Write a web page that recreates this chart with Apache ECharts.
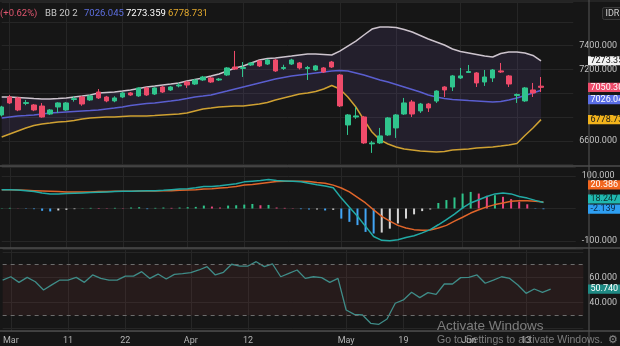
<!DOCTYPE html>
<html><head><meta charset="utf-8">
<script src="https://cdn.jsdelivr.net/npm/echarts@6.0.0/dist/echarts.min.js"></script>
<style>html,body{margin:0;padding:0;background:#161616;overflow:hidden}#c{width:620px;height:346px}</style>
</head><body><div id="c"></div>
<script>
// ---- data ----
const tickLabels = ['Mar','11','22','Apr','12','May','19','Jun','13'];
const tickIndex  = [1, 8, 15, 23, 30, 42, 49, 57, 64];
const slotCount = 72;
const categories = Array.from({length: slotCount}, (_, i) => String(i));

const opens = [6818,6969,6961,6915,6902,6893,6826,6885,6860,6948,
 6969,6944,7011,6969,6936,6969,7003,6978,7045,6994,
 7053,7028,7062,7095,7078,7112,7129,7112,7154,7221,
 7209,7238,7272,7246,7280,7209,7246,7255,7209,7196,
 7213,7263,7154,6734,6801,6801,6575,6583,6650,6709,
 6826,6927,6852,6910,6935,7053,7053,7129,7175,7171,
 7095,7129,7188,7146,6982,6936,7028,7060];
const closes = [6885,6919,6860,6922,6860,6801,6860,6919,6919,6955,
 6910,6978,6961,6936,6961,7003,6986,7045,6986,7045,
 7011,7053,7070,7070,7112,7137,7095,7120,7213,7204,
 7217,7255,7230,7280,7188,7217,7280,7213,7217,7230,
 7179,7221,6894,6818,6810,6583,6583,6642,6793,6818,
 6919,6826,6910,6877,7019,7028,7146,7146,7183,7087,
 7137,7196,7179,7078,6990,7045,7003,7050.3];
const lows = [6805,6910,6850,6900,6850,6795,6818,6835,6852,6930,
 6895,6936,6952,6925,6925,6960,6978,6970,6978,6986,
 7003,7020,7050,7045,7070,7104,7087,7104,7146,7196,
 7137,7230,7221,7238,7180,7196,7238,7200,7112,7188,
 7171,7213,6885,6650,6785,6575,6499,6575,6642,6625,
 6818,6801,6835,6843,6919,6969,7019,7120,7171,7053,
 7062,7095,7171,7053,6919,6928,6969,7011];
const highs = [6895,6986,6970,6944,6910,6918,6868,6925,6927,6975,
 6978,6986,7036,6978,6975,7011,7011,7050,7053,7050,
 7060,7060,7087,7104,7120,7146,7137,7129,7220,7356,
 7263,7263,7280,7288,7288,7240,7290,7263,7230,7238,
 7221,7272,7162,6826,6885,6810,6600,6709,6801,6826,
 6961,6944,6919,6919,7025,7060,7154,7213,7238,7179,
 7196,7204,7255,7154,6998,7053,7087,7137];

const bbUpper = [6969,6969,6965,6961,6956,6952,6952,6956,6961,6969,
 6977,6986,7003,7007,7011,7019,7028,7040,7053,7061,
 7070,7078,7087,7103,7116,7129,7145,7162,7187,7213,
 7229,7255,7280,7292,7297,7305,7313,7322,7330,7330,
 7326,7322,7355,7397,7439,7490,7540,7557,7557,7553,
 7536,7515,7486,7456,7431,7406,7372,7351,7339,7326,
 7313,7305,7334,7347,7347,7339,7318,7273.359];
const bbMid = [6792,6801,6809,6813,6818,6826,6834,6839,6843,6847,
 6851,6855,6860,6868,6876,6885,6897,6906,6914,6918,
 6927,6935,6944,6956,6969,6977,6986,7003,7019,7036,
 7053,7070,7087,7103,7120,7133,7145,7154,7162,7171,
 7179,7187,7192,7187,7171,7154,7133,7112,7095,7074,
 7053,7032,7011,6986,6969,6956,6948,6944,6939,6935,
 6931,6927,6931,6944,6961,6982,7003,7026.045];
const bbLower = [6633,6658,6683,6708,6729,6742,6750,6759,6763,6771,
 6784,6792,6797,6801,6801,6805,6809,6809,6809,6813,
 6818,6822,6826,6834,6851,6868,6876,6885,6889,6893,
 6893,6902,6910,6923,6944,6961,6977,6994,7003,7015,
 7036,7066,7036,6969,6885,6776,6675,6608,6574,6549,
 6532,6524,6515,6511,6507,6511,6524,6528,6532,6540,
 6545,6549,6557,6566,6578,6645,6708,6778.731];

const macdLine = [58,58,57,55,52,48,45,45,46,47,
 48,49,50,51,52,53,53,54,55,55,
 56,58,60,61,64,68,68,70,73,76,
 82,84,86,89,86,85,84,82,78,73,
 69,64,32,4,-24,-55,-86,-98,-99,-96,
 -89,-84,-75,-65,-50,-34,-17,2,17,27,
 37,45,48,45,37,32,25,18.247];
const signalLine = [58,58,57,56,55,54,53,52,51,51,
 51,51,52,52,53,53,53,54,54,54,
 55,55,56,57,58,60,61,63,65,68,
 72,74,77,80,83,84,84,84,83,80,
 78,72,63,51,34,17,-4,-24,-39,-52,
 -60,-65,-67,-66,-60,-52,-39,-27,-14,-4,
 5,12,17,22,24,24,22,20.386];
const macdHist = [1,2,0.5,-1,-2,-7,-9,-6,-4,-2,
 1,2,1.5,1,2,1,3,4,-2,2,
 3,2,3,4,5,9,6,3,9,10,
 12,14,10,11,3,2,1,-2,-3,-3,
 -6,-4,-31,-41,-51,-72,-77,-74,-62,-46,
 -31,-18,-8,-3,17,26,34,46,51,46,
 39,41,36,29,21,13,-1,-2.139];
const rsiValues = [57.8,60.4,56,59.9,56.5,50,54,57.8,57.8,59.9,
 56,61.8,59.1,57.8,57.8,60.9,60.9,64.4,59.1,62.5,
 58.6,62.3,62.8,63.6,65.7,68.3,61.8,63.9,70.2,68.8,
 68.8,72.2,68.3,70.4,60.4,63.1,65.7,59.1,60.4,59.7,
 56,59.1,34.3,30.9,30.4,23.9,23.1,27.3,39.6,42.2,
 48.2,44,47.9,46.6,54.7,54.7,59.7,59.9,61.8,55.3,
 57.8,60.4,59.1,53.9,47.4,50.8,48.2,50.74];

// visible tick labels (6800 / 7000 are hidden behind value tags in the reference)
const priceTicks = [6600, 7200, 7400];
const macdTicks = [-100, 100];
const rsiTicks = [40, 60];
const rsiBand = [30, 70];
const headerChange = '(+0.62%)';
const headerName = 'BB 20 2';

// ---- styling ----
const FONT = 'Roboto, "Noto Sans", sans-serif';
const BG = '#161616', GRID = '#262626', SEP = '#4d4d4d', AXTXT = '#c4c4c4';
const UP = '#30c48d', DOWN = '#ee4b6a';
const GL = 1.7, GR = 31.1;

const chart = echarts.init(document.getElementById('c'), null, {renderer: 'canvas', width: 620, height: 346});

function xAxis(gi, showLabel) {
  return {
    type: 'category', gridIndex: gi, data: categories, boundaryGap: false,
    axisLine: {show: false}, axisTick: {show: false},
    axisLabel: showLabel ? {
      show: true, color: '#b4b4b4', fontSize: 9, fontFamily: FONT, margin: 5,
      interval: (i) => tickIndex.includes(i),
      formatter: (v) => { const k = tickIndex.indexOf(Number(v)); return k >= 0 ? tickLabels[k] : ''; }
    } : {show: false},
    splitLine: {show: true, interval: (i) => tickIndex.includes(i), lineStyle: {color: GRID, width: 1}}
  };
}
function yAxis(gi, min, max, step, shown) {
  return {
    type: 'value', gridIndex: gi, position: 'right', min: min, max: max,
    minInterval: step, maxInterval: step, splitNumber: 3,
    axisLine: {show: false}, axisTick: {show: false},
    splitLine: {show: true, lineStyle: {color: GRID, width: 1}},
    axisLabel: {
      color: AXTXT, fontSize: 9, fontFamily: FONT, margin: 6,
      formatter: (v) => shown.some(t => Math.abs(t - v) < 1e-6) ? v.toFixed(3) : ''
    }
  };
}

const last = closes.length - 1;

const option = {
  backgroundColor: BG,
  animation: false,
  grid: [
    {left: GL, right: GR, top: 2, height: 164},
    {left: GL, right: GR, top: 167, height: 81},
    {left: GL, right: GR, top: 249, height: 82}
  ],
  xAxis: [xAxis(0, false), xAxis(1, false), xAxis(2, true)],
  yAxis: [
    yAxis(0, 6389.1, 7767.2, 200, priceTicks),
    yAxis(1, -121.5, 127.7, 100, macdTicks),
    yAxis(2, 17.84, 82.16, 20, rsiTicks)
  ],
  series: [
    {
      type: 'custom', xAxisIndex: 0, yAxisIndex: 0, data: [0], silent: true, z: 1,
      renderItem: (params, api) => {
        const pts = [];
        for (let i = 0; i < bbUpper.length; i++) pts.push(api.coord([i, bbUpper[i]]));
        for (let i = bbLower.length - 1; i >= 0; i--) pts.push(api.coord([i, bbLower[i]]));
        return {type: 'polygon', shape: {points: pts}, style: {fill: 'rgba(125,95,190,0.13)'}};
      }
    },
    {type: 'line', xAxisIndex: 0, yAxisIndex: 0, data: bbUpper, symbol: 'none', z: 2,
      lineStyle: {color: '#cdc4cd', width: 1.5}},
    {type: 'line', xAxisIndex: 0, yAxisIndex: 0, data: bbLower, symbol: 'none', z: 2,
      lineStyle: {color: '#cfa132', width: 1.5}},
    {type: 'line', xAxisIndex: 0, yAxisIndex: 0, data: bbMid, symbol: 'none', z: 2,
      lineStyle: {color: '#5a5ecf', width: 1.5}},
    {
      type: 'candlestick', xAxisIndex: 0, yAxisIndex: 0, z: 3, clip: false, barWidth: 5,
      data: opens.map((o, i) => [o, closes[i], lows[i], highs[i]]),
      itemStyle: {color: UP, color0: DOWN, borderColor: UP, borderColor0: DOWN, borderWidth: 1}
    },
    {
      type: 'bar', xAxisIndex: 1, yAxisIndex: 1, data: macdHist, barWidth: 2, z: 2,
      itemStyle: {
        color: (p) => {
          const v = macdHist[p.dataIndex];
          const prev = p.dataIndex > 0 ? macdHist[p.dataIndex - 1] : v;
          if (v >= 0) return v >= prev ? '#2ec48a' : '#e8467c';
          return v < prev ? '#42a5f5' : '#d4d4d4';
        }
      }
    },
    {type: 'line', xAxisIndex: 1, yAxisIndex: 1, data: signalLine, symbol: 'none', z: 3,
      lineStyle: {color: '#e0652a', width: 1.5}},
    {type: 'line', xAxisIndex: 1, yAxisIndex: 1, data: macdLine, symbol: 'none', z: 4,
      lineStyle: {color: '#22aaa5', width: 1.5}},
    {
      type: 'line', xAxisIndex: 2, yAxisIndex: 2, data: rsiValues, symbol: 'none', z: 3,
      lineStyle: {color: '#3f8c88', width: 1.3},
      markArea: {silent: true, itemStyle: {color: 'rgba(150,62,62,0.13)'},
        data: [[{yAxis: rsiBand[0]}, {yAxis: rsiBand[1]}]]},
      markLine: {silent: true, symbol: 'none', label: {show: false},
        lineStyle: {color: '#6c6c6c', type: [4, 4], width: 1},
        data: rsiBand.map(v => ({yAxis: v}))}
    }
  ]
};
chart.setOption(option);

// ---- static decorations & value tags (positions through the axes' own scales) ----
function hline(y, c, w) { return {type: 'line', silent: true, z: 50, shape: {x1: 0, y1: y, x2: 620, y2: y}, style: {stroke: c, lineWidth: w}}; }
function txt(x, y, s, color, size, extra, family) {
  return Object.assign({type: 'text', silent: true, z: 60, x: x, y: y,
    style: {text: s, fill: color, font: size + 'px ' + (family || FONT), textAlign: 'left', textVerticalAlign: 'middle'}}, extra || {});
}
const els = [
  hline(1, '#333333', 1), hline(166, SEP, 1.5), hline(248, SEP, 1.5), hline(331, SEP, 1.5),
  {type: 'line', silent: true, z: 50, shape: {x1: 589, y1: 0, x2: 589, y2: 346}, style: {stroke: SEP, lineWidth: 1.2}},
  txt(0, 14, headerChange, '#e0566f', 9.5),
  txt(45, 14, headerName, '#c8c8c8', 9.5),
  txt(84, 14, bbMid[last].toFixed(3), '#5d6fe0', 9.5),
  txt(126, 14, bbUpper[last].toFixed(3), '#ffffff', 9.5),
  txt(168, 14, bbLower[last].toFixed(3), '#e3a92d', 9.5),
  {type: 'rect', silent: true, z: 55, shape: {x: 602.5, y: 7.5, width: 24, height: 12, r: 2}, style: {fill: '#1c1c1c', stroke: '#3a3a3a', lineWidth: 1}},
  txt(605.5, 13.5, 'IDR', '#d0d0d0', 9),
];

const tagSpecs = [
  {axis: 0, value: bbUpper[last], bg: '#f2f2f2', fg: '#111111', dy: 0},
  {axis: 0, value: closes[last], bg: '#ee4b6a', fg: '#ffffff', dy: 0},
  {axis: 0, value: bbMid[last], bg: '#5b6ee6', fg: '#ffffff', dy: 9.5},
  {axis: 0, value: bbLower[last], bg: '#f2b31c', fg: '#1a1a1a', dy: 0},
  {axis: 1, value: signalLine[last], bg: '#f2661f', fg: '#ffffff', dy: -17},
  {axis: 1, value: macdLine[last], bg: '#20b8b0', fg: '#0c2e2c', dy: -3.6},
  {axis: 1, value: macdHist[last], bg: '#2e9ff2', fg: '#0b2742', dy: 0},
  {axis: 2, value: rsiValues[last], bg: '#1f8a84', fg: '#ffffff', dy: 0}
];
tagSpecs.forEach(t => {
  const y = chart.convertToPixel({yAxisIndex: t.axis}, t.value) + t.dy;
  els.push({type: 'rect', silent: true, z: 70, shape: {x: 588, y: y - 4.6, width: 40, height: 9.2}, style: {fill: t.bg}});
  els.push(txt(590.5, y, t.value.toFixed(3), t.fg, 9, {z: 71}));
});

const WM = '"Liberation Sans", Arial, sans-serif';
els.push(txt(437, 326, 'Activate Windows', 'rgba(205,205,205,0.55)', 13.5, {z: 90}, WM));
els.push(txt(437, 340, 'Go to Settings to activate Windows.', 'rgba(205,205,205,0.55)', 10.5, {z: 90}, WM));
els.push(txt(608, 340, '⚙', '#8a8a8a', 11, {z: 90}));

chart.setOption({graphic: {elements: els}});
</script>
</body></html>
